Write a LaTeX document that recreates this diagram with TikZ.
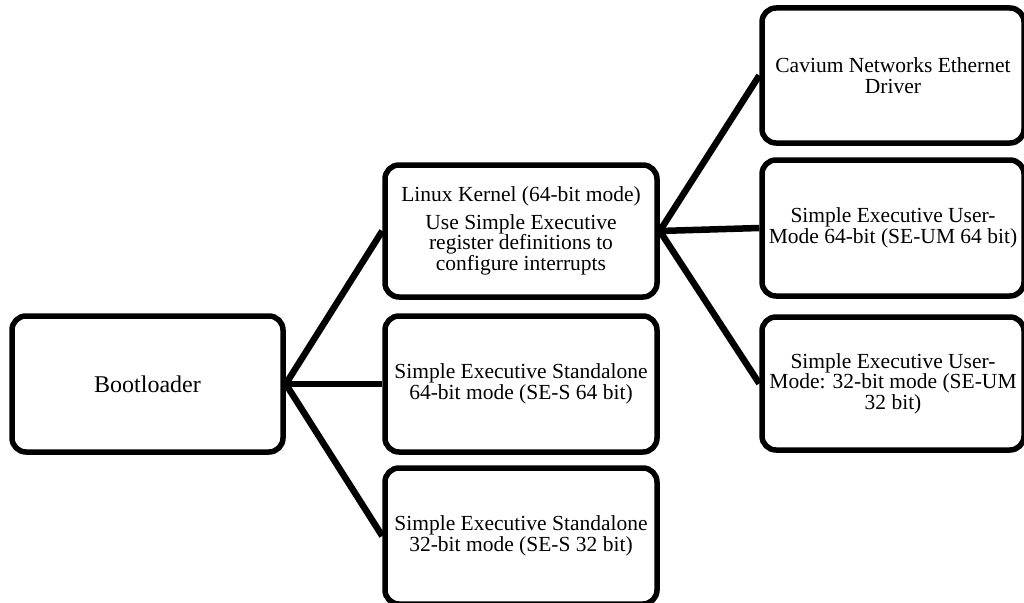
\documentclass[tikz,border=0pt]{standalone}
\usepackage{fontspec}
\setmainfont{Liberation Serif}
\begin{document}
\begin{tikzpicture}[x=1pt, y=-1pt,
    box/.style={draw=black, line width=5.5pt, rounded corners=14pt, fill=white,
        align=center, inner sep=0pt, minimum width=272pt, minimum height=136pt,
        font=\fontsize{21.5}{20.5}\selectfont},
    link/.style={line width=6.5pt}]
    \useasboundingbox (0,0) rectangle (1024,602);

    % LEFT: bootloader
    \node[box, minimum width=271pt, font=\fontsize{24}{24}\selectfont] (boot) at (147.5,384) {Bootloader};

    % MIDDLE: kernel and standalone modes
    \node[box, minimum height=132pt] (linux) at (521,231)
        {Linux Kernel (64-bit mode)\\[7pt] Use Simple Executive\\ register definitions to\\ configure interrupts};
    \node[box] (ses64) at (521,384) {Simple Executive Standalone\\ 64-bit mode (SE-S 64 bit)};
    \node[box] (ses32) at (521,536) {Simple Executive Standalone\\ 32-bit mode (SE-S 32 bit)};

    % RIGHT: user-mode applications
    \node[box, minimum width=262pt, minimum height=135pt] (cavium) at (893,75.5) {Cavium Networks Ethernet\\ Driver};
    \node[box, minimum width=262pt] (seum64) at (893,228) {Simple Executive User-\\ Mode 64-bit (SE-UM 64 bit)};
    \node[box, minimum width=262pt, minimum height=133pt] (seum32) at (893,383.5) {Simple Executive User-\\ Mode: 32-bit mode (SE-UM\\ 32 bit)};

    % Connectors
    \draw[link] (boot.east) -- (linux.west);
    \draw[link] (boot.east) -- (ses64.west);
    \draw[link] (boot.east) -- (ses32.west);
    \draw[link] (linux.east) -- (cavium.west);
    \draw[link] (linux.east) -- (seum64.west);
    \draw[link] (linux.east) -- (seum32.west);
\end{tikzpicture}
\end{document}
